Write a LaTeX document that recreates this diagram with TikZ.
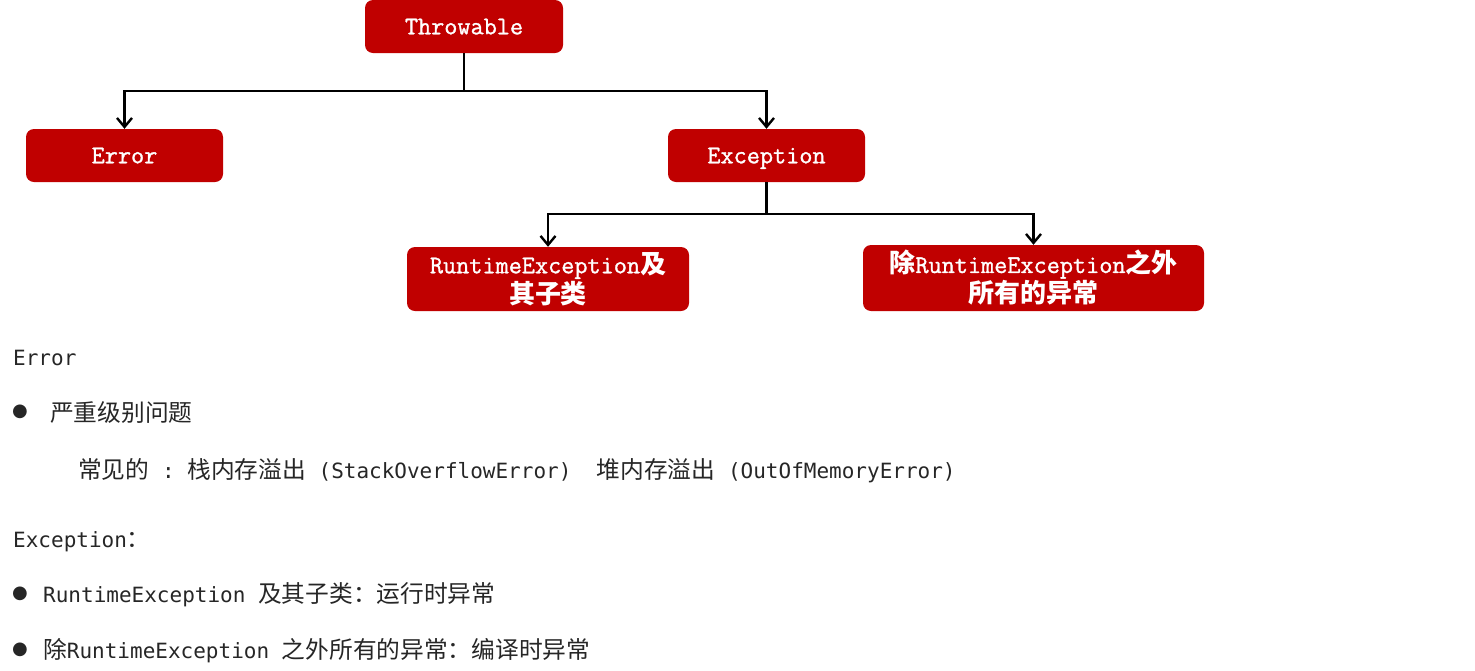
\documentclass[tikz,border=0pt]{standalone}
\usepackage{fontspec}
\setmainfont{Liberation Serif}
\setmonofont{DejaVu Sans Mono}
\newfontfamily\zhfont[Scale=1.13]{Noto Sans CJK SC}
\newfontfamily\boxfont[FakeBold=1.2]{Latin Modern Mono}
\newfontfamily\dotfont{DejaVu Sans}
\usetikzlibrary{arrows.meta}
\definecolor{boxred}{HTML}{C00000}
\definecolor{bodygray}{HTML}{262626}
\newcommand{\zh}[1]{{\zhfont #1}}
\newcommand{\bzh}[1]{{\zhfont\fontsize{23}{30}\selectfont\bfseries #1}}
\tikzset{
    redbox/.style={fill=boxred, rounded corners=8pt, text=white, align=center,
            inner sep=0pt, font=\boxfont\fontsize{25.5}{30}\selectfont},
    onebox/.style={redbox, minimum width=197pt, minimum height=53pt,
            text height=18pt, text depth=2.4pt},
    tree/.style={line width=2.4pt, black},
    treearrow/.style={tree, -{Straight Barb[length=9pt,width=15pt,line width=2.4pt]}},
    bodytext/.style={anchor=base west, inner sep=0pt, text=bodygray,
            font=\ttfamily\fontsize{21}{24}\selectfont},
    dotmark/.style={inner sep=0pt, text=bodygray, font=\dotfont\fontsize{18}{20}\selectfont}
}
\begin{document}
\begin{tikzpicture}[x=1pt, y=-1pt]
            \useasboundingbox (0, 0) rectangle (1475, 670);
            % the tree of boxes
            \node [onebox, minimum width=198pt] (thr) at (464, 26.5) {Throwable};
            \node [onebox] (err) at (124.5, 155.5) {Error};
            \node [onebox] (exc) at (766.5, 155.5) {Exception};
            \node [redbox, minimum width=282pt, minimum height=64pt] (rte) at (548, 279) {RuntimeException\bzh{及}\\\bzh{其子类}};
            \node [redbox, minimum width=341pt, minimum height=66pt] (chk) at (1033.5, 278) {\bzh{除}RuntimeException\bzh{之外}\\\bzh{所有的异常}};
            \coordinate (j1) at (464, 91);
            \coordinate (j2) at (766.5, 214);
            \draw [tree] (thr.south) -- (j1);
            \draw [treearrow] (j1) -| (err.north);
            \draw [treearrow] (j1) -| (exc.north);
            \draw [tree] (exc.south) -- (j2);
            \draw [treearrow] (j2) -| (rte.north);
            \draw [treearrow] (j2) -| (chk.north);
            % the notes below
            \node [bodytext] (errhead) at (13, 365) {Error};
            \node [dotmark] (dot1) at (20, 412) {●};
            \node [bodytext] (errline) at (50, 421) {\zh{严重级别问题}};
            \node [bodytext] (errcase) at (78, 478) {\zh{常见的} : \zh{栈内存溢出} (StackOverflowError)\ \ \zh{堆内存溢出} (OutOfMemoryError)};
            \node [bodytext] (exchead) at (13, 547) {Exception\zh{：}};
            \node [dotmark] (dot2) at (20, 594) {●};
            \node [bodytext] (rteline) at (43, 602) {RuntimeException \zh{及其子类：运行时异常}};
            \node [dotmark] (dot3) at (20, 650) {●};
            \node [bodytext] (chkline) at (43, 658) {\zh{除}RuntimeException \zh{之外所有的异常：编译时异常}};
        \end{tikzpicture}
\end{document}
